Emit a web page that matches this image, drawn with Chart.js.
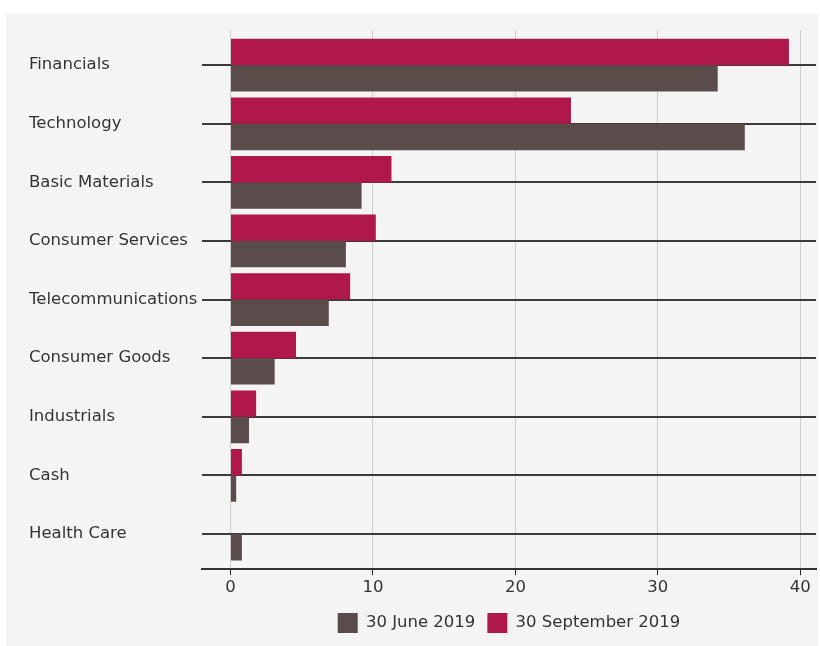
<!DOCTYPE html>
<html>
<head>
<meta charset="utf-8">
<script src="https://cdn.jsdelivr.net/npm/chart.js@4/dist/chart.umd.min.js"></script>
<style>
  html, body { margin: 0; padding: 0; background: #ffffff; }
  #wrap { position: absolute; left: 6px; top: 14px; width: 812px; height: 632px; background: #f4f4f4; }
</style>
</head>
<body>
<div id="wrap"><canvas id="chart"></canvas></div>
<script>
// sector weights, %
const categories = ['Financials', 'Technology', 'Basic Materials', 'Consumer Services',
  'Telecommunications', 'Consumer Goods', 'Industrials', 'Cash', 'Health Care'];
const june2019 = [34.2, 36.1, 9.2, 8.1, 6.9, 3.1, 1.3, 0.4, 0.8];
const sept2019 = [39.2, 23.9, 11.3, 10.2, 8.4, 4.6, 1.8, 0.8, 0];
const xTicks = [0, 10, 20, 30, 40];

const textColor = '#333333';
const font = { family: "'DejaVu Sans', sans-serif", size: 16.5 };

new Chart(document.getElementById('chart'), {
  type: 'bar',
  data: {
    labels: categories,
    datasets: [
      // september first so it sits on top inside each group
      { label: '30 September 2019', data: sept2019, backgroundColor: '#b0174b' },
      { label: '30 June 2019', data: june2019, backgroundColor: '#5a4c4b' },
    ],
  },
  options: {
    indexAxis: 'y',
    responsive: true,
    maintainAspectRatio: false,
    animation: false,
    categoryPercentage: 0.9,
    barPercentage: 1.0,
    layout: { padding: { left: 23, right: 2, top: 16, bottom: 3 } },
    scales: {
      x: {
        min: -2,
        max: 41.1,
        afterBuildTicks: s => { s.ticks = xTicks.map(v => ({ value: v })); },
        ticks: { color: textColor, font: font, padding: 3 },
        grid: { color: '#cccccc', lineWidth: 1, tickColor: '#222222', tickLength: 6 },
        border: { color: '#333333', width: 2 },
      },
      y: {
        offset: false,
        afterBuildTicks: s => { s._startValue = -0.6; s._valueRange = categories.length - 1 + 1.2; },
        afterFit: s => { s.width = 173; },
        ticks: { color: textColor, font: font, crossAlign: 'far', autoSkip: false },
        grid: { color: '#3a3a3a', lineWidth: 2, offset: false, drawTicks: false },
        border: { display: false },
      },
    },
    plugins: {
      legend: {
        position: 'bottom',
        fullSize: false, // centred under the plot area, not the whole canvas
        reverse: true,
        labels: { color: textColor, font: font, boxWidth: 20, boxHeight: 20, padding: 12 },
      },
      tooltip: { enabled: false },
    },
  },
});
</script>
</body>
</html>
